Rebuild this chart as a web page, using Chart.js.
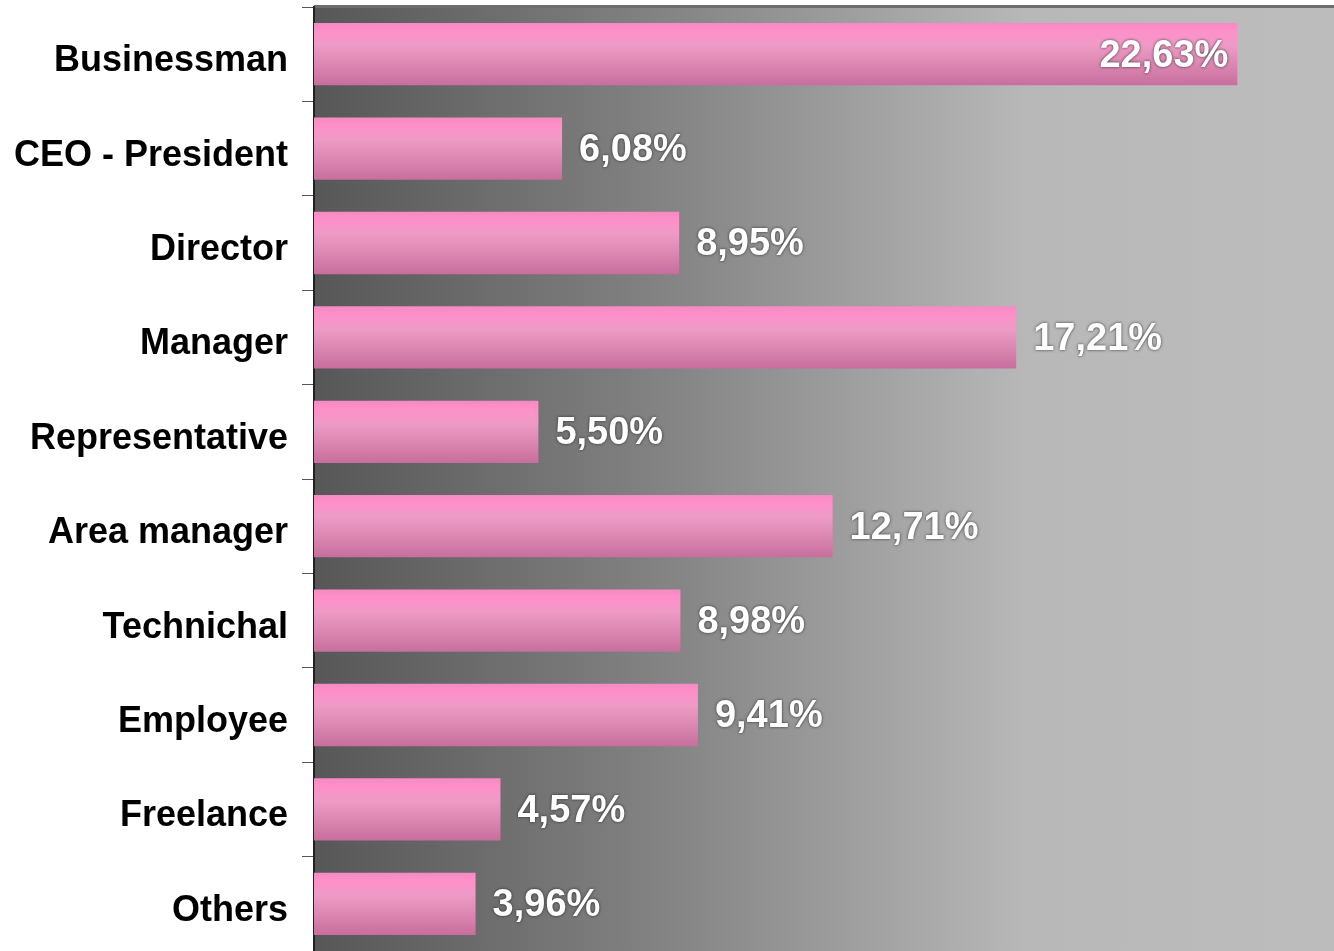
<!DOCTYPE html>
<html>
<head>
<meta charset="utf-8">
<script src="https://cdn.jsdelivr.net/npm/chart.js@4"></script>
<style>
  html, body { margin: 0; padding: 0; background: #fff; }
  #wrap { width: 1334px; height: 951px; }
</style>
</head>
<body>
<div id="wrap"><canvas id="myChart"></canvas></div>
<script>
// Categories and their shares (in %)
const categories = [
  "Businessman",
  "CEO - President",
  "Director",
  "Manager",
  "Representative",
  "Area manager",
  "Technichal",
  "Employee",
  "Freelance",
  "Others",
];
const shares = [22.63, 6.08, 8.95, 17.21, 5.5, 12.71, 8.98, 9.41, 4.57, 3.96];
// Labels printed next to the bars
const shareLabels = ["22,63%", "6,08%", "8,95%", "17,21%", "5,50%", "12,71%", "8,98%", "9,41%", "4,57%", "3,96%"];

const BAR_PCT = 0.66;

// pink vertical gradient for each bar, built from the y scale
function barFill(c) {
  const y = c.chart.scales.y;
  if (!y || y.top == null || y.height == null) return "#ef90c4";
  const cy = y.getPixelForValue(c.dataIndex);
  const h = (y.height / categories.length) * BAR_PCT;
  const g = c.chart.ctx.createLinearGradient(0, cy - h / 2, 0, cy + h / 2);
  g.addColorStop(0, "#f58ac2");
  g.addColorStop(0.12, "#ff8fc9");
  g.addColorStop(0.35, "#ee9bc6");
  g.addColorStop(0.7, "#d985b0");
  g.addColorStop(1, "#c86e9c");
  return g;
}

// gray backdrop behind the bars
const backdrop = {
  id: "backdrop",
  beforeDraw(chart) {
    const { ctx, chartArea: a } = chart;
    const g = ctx.createLinearGradient(a.left, 0, a.right, 0);
    g.addColorStop(0, "#575757");
    g.addColorStop(0.35, "#848484");
    g.addColorStop(0.7, "#b8b8b8");
    g.addColorStop(1, "#bcbcbc");
    ctx.save();
    ctx.fillStyle = g;
    ctx.fillRect(a.left, a.top, a.right - a.left, a.bottom - a.top);
    // top edge
    ctx.fillStyle = "#6e6e6e";
    ctx.fillRect(a.left, a.top - 2, a.right - a.left, 3);
    ctx.restore();
  },
};

// white percentage labels
const valueLabels = {
  id: "valueLabels",
  afterDatasetsDraw(chart) {
    const { ctx } = chart;
    const meta = chart.getDatasetMeta(0);
    ctx.save();
    ctx.font = "bold 38px 'Liberation Sans', Arial, sans-serif";
    ctx.fillStyle = "#ffffff";
    ctx.textBaseline = "middle";
    ctx.shadowColor = "rgba(30, 30, 30, 0.85)";
    ctx.shadowBlur = 3;
    meta.data.forEach((bar, i) => {
      const txt = shareLabels[i];
      if (i === 0) {
        ctx.textAlign = "right";
        ctx.fillText(txt, bar.x - 9, bar.y + 2);
      } else {
        ctx.textAlign = "left";
        ctx.fillText(txt, bar.x + 17, bar.y + 2);
      }
    });
    ctx.restore();
  },
};

const config = {
  type: "bar",
  data: {
    labels: categories,
    datasets: [
      {
        label: "Share",
        data: shares,
        backgroundColor: barFill,
        borderWidth: 0,
        categoryPercentage: 1,
        barPercentage: BAR_PCT,
      },
    ],
  },
  options: {
    indexAxis: "y",
    responsive: true,
    maintainAspectRatio: false,
    animation: false,
    layout: { padding: { top: 7, right: 0, bottom: 0, left: 0 } },
    plugins: {
      legend: { display: false },
      tooltip: { enabled: false },
    },
    scales: {
      x: {
        display: false,
        min: 0,
        max: 25,
      },
      y: {
        afterFit(scale) {
          scale.width = 314;
          scale.paddingTop = 0;
          scale.paddingBottom = 0;
        },
        grid: {
          drawOnChartArea: false,
          tickLength: 12,
          tickColor: "#555",
          tickWidth: 1,
        },
        border: { display: true, color: "#222", width: 2 },
        ticks: {
          padding: 14,
          labelOffset: 7,
          color: "#000",
          font: { family: "'Liberation Sans', Arial, sans-serif", size: 36, weight: "bold" },
        },
      },
    },
  },
  plugins: [backdrop, valueLabels],
};

const myChart = new Chart(document.getElementById("myChart"), config);
</script>
</body>
</html>
